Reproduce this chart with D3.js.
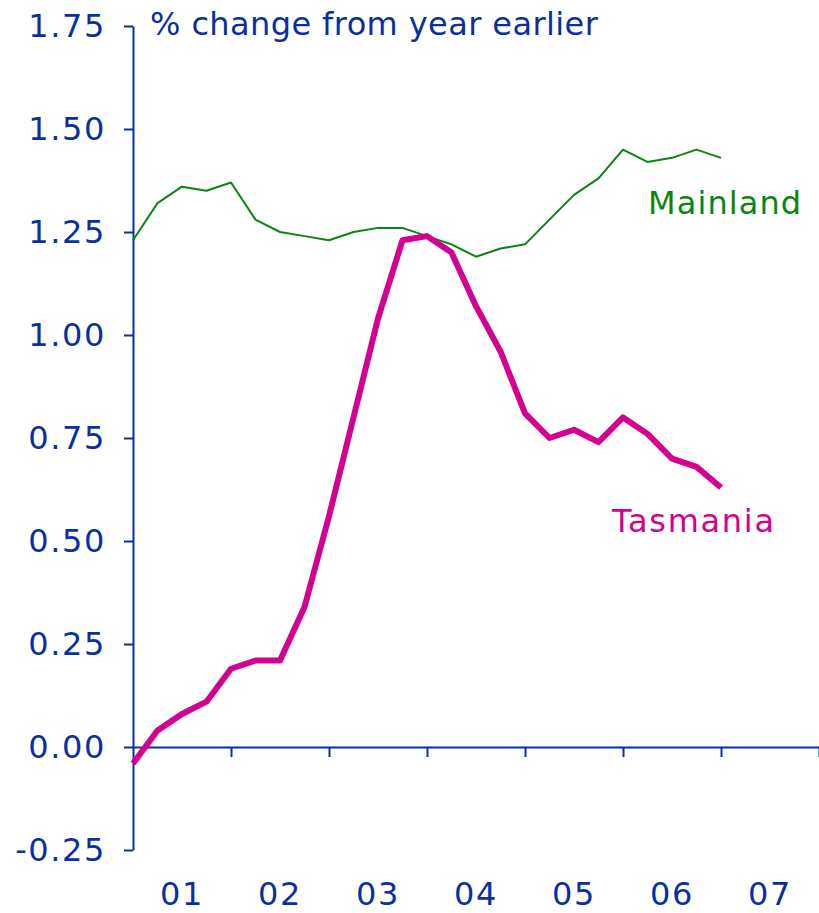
<!DOCTYPE html>
<html>
<head>
<meta charset="utf-8">
<script src="https://cdn.jsdelivr.net/npm/d3@7"></script>
<style>
  body { margin: 0; background: #fff; }
  #chart text { font-family: "DejaVu Sans", Verdana, sans-serif; }
</style>
</head>
<body>
<div id="chart"></div>
<script>
// quarterly observations, first point = start of 2001
const years = ["01", "02", "03", "04", "05", "06", "07"];
const mainland = [1.23, 1.32, 1.36, 1.35, 1.37, 1.28, 1.25, 1.24, 1.23, 1.25, 1.26, 1.26,
                  1.24, 1.22, 1.19, 1.21, 1.22, 1.28, 1.34, 1.38, 1.45, 1.42, 1.43, 1.45, 1.43];
const tasmania = [-0.04, 0.04, 0.08, 0.11, 0.19, 0.21, 0.21, 0.34, 0.56, 0.80, 1.04, 1.23,
                  1.24, 1.20, 1.07, 0.96, 0.81, 0.75, 0.77, 0.74, 0.80, 0.76, 0.70, 0.68, 0.63];
const yTicks = [-0.25, 0, 0.25, 0.5, 0.75, 1, 1.25, 1.5, 1.75];

const W = 819, H = 913;
const blue = "#0a2f9f", green = "#0b8512", magenta = "#d4008f";
const fontSize = 32;

const svg = d3.select("#chart").append("svg")
  .attr("width", W).attr("height", H);

const x = d3.scaleLinear().domain([0, years.length * 4]).range([133, 819]);
const y = d3.scaleLinear().domain([-0.25, 1.75]).range([850, 26]);

// y axis
const yAxis = svg.append("g")
  .attr("transform", `translate(${x(0)},0)`)
  .call(d3.axisLeft(y).tickValues(yTicks).tickSize(9).tickSizeOuter(0)
    .tickPadding(18).tickFormat(d => d.toFixed(2)));

// x axis along zero
const xAxis = svg.append("g")
  .attr("transform", `translate(0,${y(0)})`)
  .call(d3.axisBottom(x).tickValues(d3.range(4, years.length * 4 + 1, 4))
    .tickSize(10).tickSizeOuter(0).tickFormat(""));

[yAxis, xAxis].forEach(g => {
  g.selectAll("path, line").attr("stroke", blue).attr("stroke-width", 2);
  g.selectAll("text").attr("fill", blue).attr("font-size", fontSize)
    .attr("letter-spacing", 1.6)
    .attr("font-family", "DejaVu Sans, Verdana, sans-serif");
});

// year labels centred in each year
svg.append("g").selectAll("text")
  .data(years)
  .join("text")
  .attr("x", (d, i) => x(i * 4 + 2))
  .attr("y", 894)
  .attr("dy", "0.35em")
  .attr("text-anchor", "middle")
  .attr("font-size", fontSize)
  .attr("letter-spacing", 1.6)
  .attr("fill", blue)
  .text(d => d);

svg.append("text")
  .attr("x", 150).attr("y", 24).attr("dy", "0.35em")
  .attr("font-size", fontSize)
  .attr("letter-spacing", 0.4)
  .attr("fill", blue)
  .text("% change from year earlier");

const line = d3.line().x((d, i) => x(i)).y(d => y(d));

svg.append("path")
  .datum(mainland)
  .attr("fill", "none")
  .attr("stroke", green)
  .attr("stroke-width", 2)
  .attr("stroke-linejoin", "round")
  .attr("d", line);

svg.append("path")
  .datum(tasmania)
  .attr("fill", "none")
  .attr("stroke", magenta)
  .attr("stroke-width", 6)
  .attr("stroke-linejoin", "round")
  .attr("d", line);

svg.append("text")
  .attr("x", 648).attr("y", 203).attr("dy", "0.35em")
  .attr("font-size", fontSize).attr("letter-spacing", 1.1).attr("fill", green)
  .text("Mainland");

svg.append("text")
  .attr("x", 612).attr("y", 521).attr("dy", "0.35em")
  .attr("font-size", fontSize).attr("letter-spacing", 1.7).attr("fill", magenta)
  .text("Tasmania");
</script>
</body>
</html>
